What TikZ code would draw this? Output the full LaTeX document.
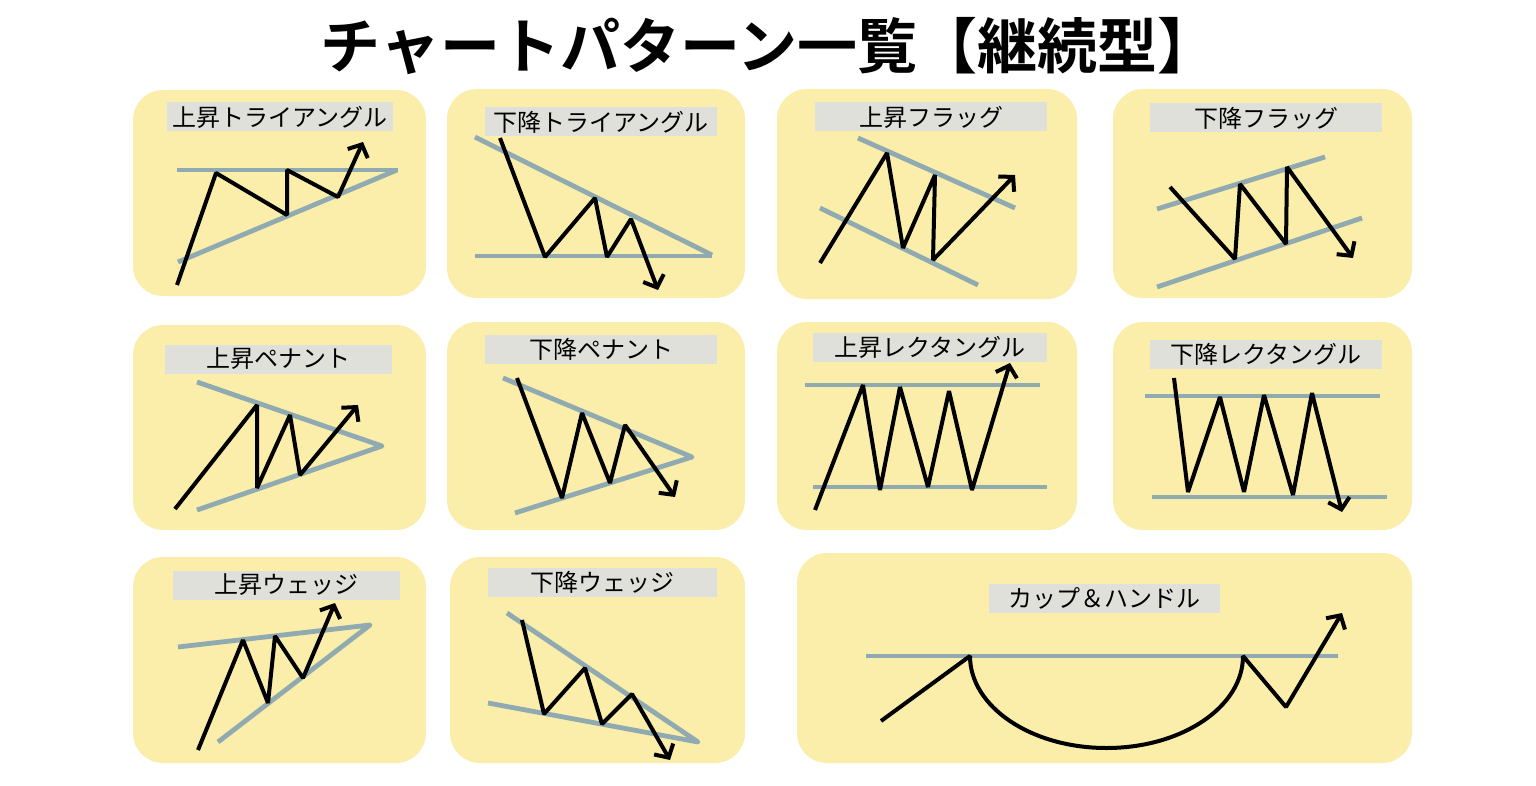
\documentclass[tikz,border=0pt]{standalone}
\usepackage{fontspec}
\newfontfamily\jpfont{Noto Sans CJK JP}
\newfontfamily\jpheavy{Noto Sans CJK JP Bold}
\usetikzlibrary{arrows.meta}
\definecolor{panelyellow}{RGB}{251,237,170}
\definecolor{taggray}{RGB}{224,224,219}
\definecolor{trendblue}{RGB}{143,170,176}

\begin{document}
\begin{tikzpicture}[x=0.5pt, y=-0.5pt,
		panel/.style={fill=panelyellow, rounded corners=15pt},
		tag/.style={fill=taggray, inner sep=0pt, minimum height=14.5pt, minimum width=116pt, font=\jpfont\fontsize{12}{12}\selectfont},
		trend/.style={line width=2.4pt, color=trendblue, line join=round},
		price/.style={line width=2pt, line join=bevel},
		rise/.style={price, -{Straight Barb[length=5pt, width=11pt]}}]
		%%%%% START %%%%%
		
		\useasboundingbox[fill=white] (0, 0) rectangle (1536, 786);
		\node[font=\jpheavy\fontsize{30}{30}\selectfont] (title) at (769, 46) {チャートパターン一覧【継続型】};
		
		\fill[panel] (133, 90) rectangle (426, 296);
		\fill[panel] (447, 89) rectangle (745, 298);
		\fill[panel] (777, 89) rectangle (1077, 299);
		\fill[panel] (1113, 89) rectangle (1412, 298);
		\fill[panel] (133, 325) rectangle (426, 530);
		\fill[panel] (447, 322) rectangle (745, 530);
		\fill[panel] (777, 322) rectangle (1077, 530);
		\fill[panel] (1113, 322) rectangle (1412, 530);
		\fill[panel] (133, 557) rectangle (426, 763);
		\fill[panel] (450, 557) rectangle (745, 763);
		\fill[panel] (797, 553) rectangle (1412, 763);
		
		\node[tag, minimum width=113pt] (ascTri) at (280, 117) {上昇トライアングル};
		\node[tag] (descTri) at (601, 122) {下降トライアングル};
		\node[tag] (bullFlag) at (931, 117) {上昇フラッグ};
		\node[tag] (bearFlag) at (1266, 118) {下降フラッグ};
		\node[tag, minimum width=113.5pt] (bullPen) at (278, 359) {上昇ペナント};
		\node[tag] (bearPen) at (601, 349) {下降ペナント};
		\node[tag, minimum width=117pt] (bullRect) at (930, 347) {上昇レクタングル};
		\node[tag] (bearRect) at (1266, 354) {下降レクタングル};
		\node[tag, minimum width=113.5pt] (riseWedge) at (286, 585) {上昇ウェッジ};
		\node[tag, minimum width=114.5pt] (fallWedge) at (602, 582) {下降ウェッジ};
		\node[tag, minimum width=115.5pt] (cupHandle) at (1104, 598) {カップ＆ハンドル};
		
		% ascending triangle
		\draw[trend] (177, 170) -- (398, 170);
		\draw[trend] (178, 262) -- (397, 170);
		\draw[rise] (177, 285) -- (216, 173) -- (287, 215) -- (287, 170) -- (338, 197) -- (363, 142);
		
		% descending triangle
		\draw[trend] (475, 137) -- (712, 255);
		\draw[trend] (475, 256) -- (712, 256);
		\draw[rise] (500, 138) -- (545, 257) -- (595, 198) -- (607, 257) -- (631, 219) -- (658, 290);
		
		% bull flag
		\draw[trend] (858, 138) -- (1015, 208);
		\draw[trend] (820, 208) -- (978, 285);
		\draw[rise] (820, 263) -- (887, 153) -- (903, 248) -- (935, 175) -- (933, 260) -- (1015, 175);
		
		% bear flag
		\draw[trend] (1157, 209) -- (1325, 157);
		\draw[trend] (1157, 287) -- (1362, 218);
		\draw[rise] (1170, 187) -- (1235, 259) -- (1240, 184) -- (1286, 244) -- (1287, 167) -- (1353, 258);
		
		% bull pennant
		\draw[trend] (197, 382) -- (382, 446) -- (197, 510);
		\draw[rise] (175, 509) -- (257, 405) -- (257, 488) -- (290, 415) -- (300, 475) -- (358, 405);
		
		% bear pennant
		\draw[trend] (503, 378) -- (692, 457) -- (515, 513);
		\draw[rise] (517, 378) -- (562, 498) -- (582, 413) -- (610, 483) -- (625, 425) -- (675, 497);
		
		% bull rectangle
		\draw[trend] (805, 385) -- (1040, 385);
		\draw[trend] (813, 487) -- (1047, 487);
		\draw[rise] (815, 510) -- (863, 385) -- (880, 490) -- (900, 387) -- (928, 487) -- (949, 391) -- (972, 490) -- (1010, 363);
		
		% bear rectangle
		\draw[trend] (1145, 396) -- (1380, 396);
		\draw[trend] (1152, 497) -- (1387, 497);
		\draw[rise] (1174, 378) -- (1188, 492) -- (1220, 397) -- (1244, 492) -- (1264, 395) -- (1293, 495) -- (1312, 393) -- (1342, 512);
		
		% rising wedge
		\draw[trend] (178, 647) -- (370, 625) -- (218, 742);
		\draw[rise] (198, 750) -- (243, 640) -- (268, 703) -- (275, 636) -- (303, 678) -- (335, 603);
		
		% falling wedge
		\draw[trend] (507, 613) -- (698, 742) -- (488, 703);
		\draw[rise] (522, 620) -- (544, 714) -- (585, 668) -- (602, 724) -- (632, 694) -- (670, 760);
		
		% cup and handle
		\draw[trend] (866, 656) -- (1338, 656);
		\draw[rise] (881, 721) -- (970, 656) arc[start angle=180, end angle=0, x radius=136.5, y radius=92] -- (1286, 707) -- (1342, 613);
		
		%%%%% END %%%%%
	\end{tikzpicture}
\end{document}
